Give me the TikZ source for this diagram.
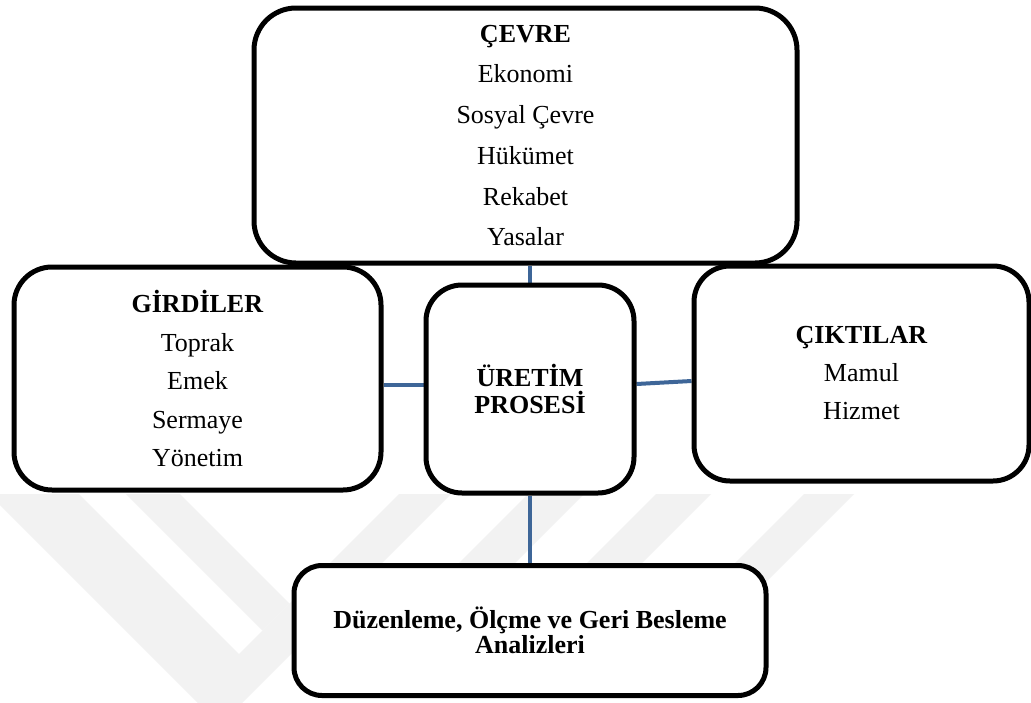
\documentclass[tikz,border=0pt]{standalone}
\usepackage{fontspec}
\setmainfont{Liberation Serif}
\usetikzlibrary{calc,backgrounds}
\definecolor{linkblue}{RGB}{62,102,152}
\definecolor{wmgray}{RGB}{242,242,242}

\begin{document}
\begin{tikzpicture}[x=1pt,y=-1pt,
  box/.style={draw=black,line width=5pt,fill=white,inner sep=0pt,align=center},
  link/.style={draw=linkblue,line width=4pt},
  wm/.style={fill=wmgray,draw=none}
]
\useasboundingbox (0,0) rectangle (1031,702);

% boxes
\node[box,rounded corners=42pt,minimum width=543pt,minimum height=255pt,
      font=\fontsize{26}{40.7}\selectfont] (env) at (525.5,135.5)
  {\textbf{ÇEVRE}\\Ekonomi\\Sosyal Çevre\\Hükümet\\Rekabet\\Yasalar};
\node[box,rounded corners=38pt,minimum width=367pt,minimum height=223pt,
      font=\fontsize{26}{38.5}\selectfont] (inp) at (197.5,378.5)
  {\textbf{GİRDİLER}\\Toprak\\Emek\\Sermaye\\Yönetim};
\node[box,rounded corners=36pt,minimum width=208pt,minimum height=208pt,
      font=\fontsize{26}{26.5}\selectfont\bfseries] (proc) at (530,389)
  {ÜRETİM\\PROSESİ};
\node[box,rounded corners=36pt,minimum width=335pt,minimum height=215pt,
      font=\fontsize{26}{38}\selectfont] (out) at (861.5,373.5)
  {\textbf{ÇIKTILAR}\\Mamul\\Hizmet};
\node[box,rounded corners=28pt,minimum width=472pt,minimum height=130pt,
      font=\fontsize{26}{25.5}\selectfont\bfseries] (fb) at (530,630.5)
  {Düzenleme, Ölçme ve Geri Besleme\\Analizleri};

\begin{scope}[on background layer]
  \fill[white] (0,0) rectangle (1031,702);
  % faint watermark below the upper row
  \begin{scope}
    \clip (0,494) rectangle (1031,702);
    \fill[wm] (79,494) -- (239,654) -- (399,494) -- (451,494) -- (220,725) -- (-11,494) -- cycle;
    \fill[wm] (126,494) -- (180,494) -- (289.5,603.5) -- (262.5,630.5) -- cycle;
    \fill[wm] (528,494) -- (584,494) -- (478,600) -- (422,600) -- cycle;
    \fill[wm] (656,494) -- (711,494) -- (605,600) -- (550,600) -- cycle;
    \fill[wm] (804,494) -- (854,494) -- (766,582) -- (716,582) -- cycle;
  \end{scope}
  % connectors
  \draw[link] (proc.north) -- (proc.north |- env.south);
  \draw[link] ($(inp.east)+(0,6.5)$) -- ($(proc.west)+(0,-4)$);
  \draw[link] ($(proc.east)+(0,-5)$) -- ($(out.west)+(0,7.5)$);
  \draw[link] (proc.south) -- (proc.south |- fb.north);
\end{scope}
\end{tikzpicture}
\end{document}
